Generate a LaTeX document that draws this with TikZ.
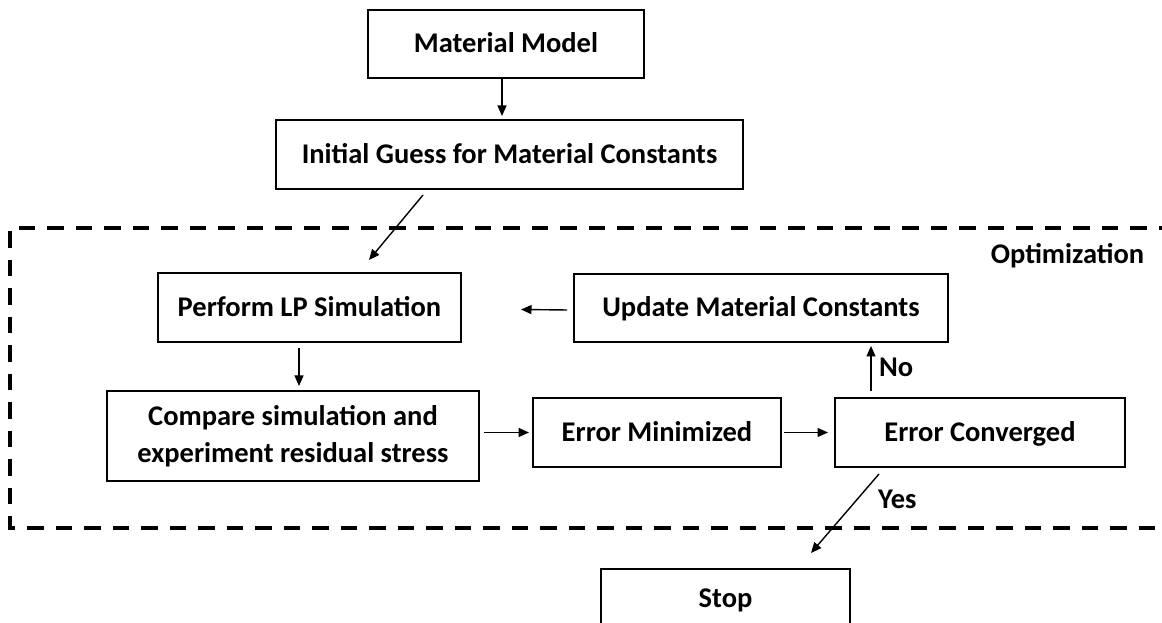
\documentclass[tikz,border=0pt]{standalone}
\usepackage{fontspec}
\setmainfont{Carlito}
\usetikzlibrary{arrows.meta}
\tikzset{
  box/.style={draw, line width=2pt, minimum width=#1, inner sep=0pt, font=\bfseries\fontsize{28.5}{36.5}\selectfont, align=center},
  oneline/.style={text height=18pt, text depth=0pt},
  arr/.style={line width=1.4pt, -{Triangle[length=10.5pt,width=9pt]}},
  lbl/.style={font=\bfseries\fontsize{28.5}{34}\selectfont, inner sep=0pt, text height=18pt, text depth=0pt},
  optframe/.style={line width=3.3pt, dash pattern=on 16.5pt off 12pt}
}
\begin{document}
\begin{tikzpicture}[x=1pt,y=1pt]
\useasboundingbox (0,0) rectangle (1162,623);
\clip (0,0) rectangle (1162,623);
% dashed optimisation frame
\draw[optframe] (1175,395) -- (10,395) -- (10,95) -- (1175,95);
\node[lbl] (opt) at (1067.5,368) {Optimization};
% boxes
\node[box=276pt, minimum height=68pt, oneline] (mm) at (506,579) {Material Model};
\node[box=467pt, minimum height=69pt, oneline] (ig) at (509.5,468.5) {Initial Guess for Material Constants};
\node[box=303pt, minimum height=69pt, oneline] (pl) at (309.5,315.5) {Perform LP Simulation};
\node[box=374pt, minimum height=68pt, oneline] (um) at (761,315) {Update Material Constants};
\node[box=372pt, minimum height=90pt] (cp) at (293,187) {Compare simulation and\\experiment residual stress};
\node[box=248pt, minimum height=69pt, oneline] (em) at (657,190.5) {Error Minimized};
\node[box=290pt, minimum height=69pt, oneline] (ec) at (980,190.5) {Error Converged};
\node[box=249pt, minimum height=60pt, oneline] (st) at (725.5,24) {Stop};
% connectors
\coordinate (a1) at ([xshift=-4pt]mm.south);
\draw[arr, shorten >=3pt] (a1) -- (a1 |- ig.north);
\draw[arr] ([xshift=-86.5pt,yshift=-5pt]ig.south) -- ([xshift=59.5pt,yshift=12pt]pl.north);
\draw[arr] ([xshift=-6pt,yshift=-2pt]um.west) -- ([xshift=59pt,yshift=-2pt]pl.east);
\coordinate (a2) at ([xshift=-10.5pt,yshift=-5pt]pl.south);
\draw[arr, shorten >=4pt] (a2) -- (a2 |- cp.north);
\draw[arr, shorten <=4pt, shorten >=3pt] (cp.east |- em.west) -- (em.west);
\draw[arr, shorten <=2pt, shorten >=6pt] (em.east) -- (ec.west);
\coordinate (a3) at ([xshift=-109pt,yshift=6pt]ec.north);
\draw[arr, shorten >=3pt] (a3) -- (a3 |- um.south);
\node[lbl, anchor=west] (no) at (879,255) {No};
\draw[arr] ([xshift=-101pt,yshift=-6pt]ec.south) -- ([xshift=85.5pt,yshift=15pt]st.north);
\node[lbl, anchor=west] (yes) at (878,123) {Yes};
\end{tikzpicture}
\end{document}
